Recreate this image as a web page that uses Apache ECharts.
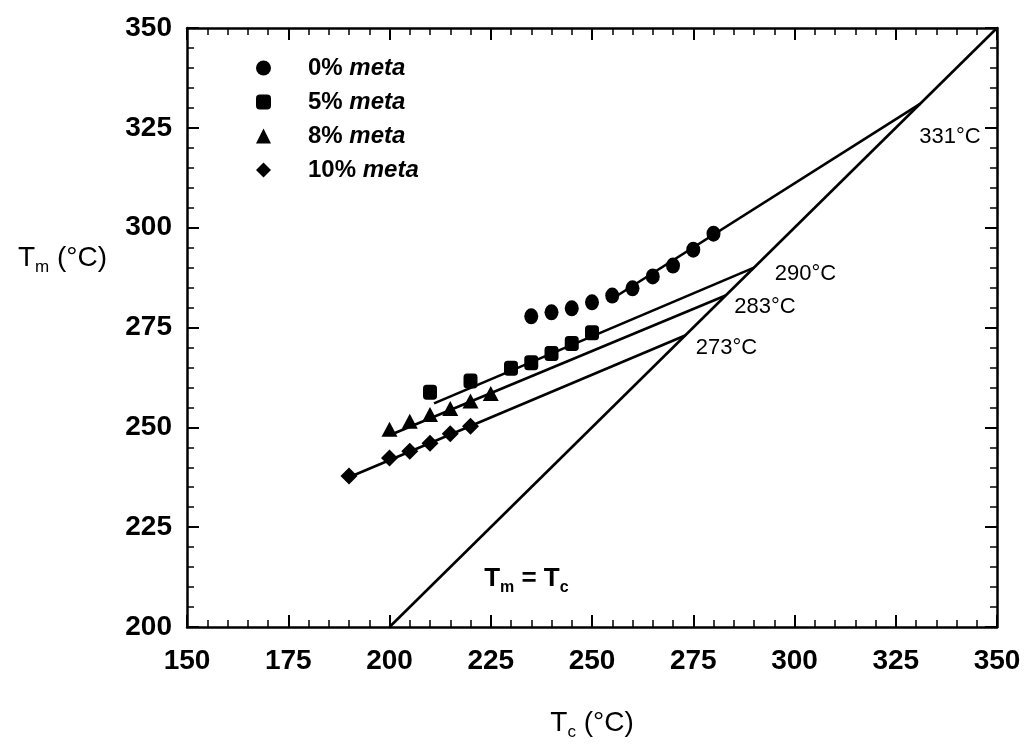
<!DOCTYPE html>
<html>
<head>
<meta charset="utf-8">
<script src="https://cdn.jsdelivr.net/npm/echarts@6/dist/echarts.min.js"></script>
<style>
  html, body { margin: 0; padding: 0; background: #fff; }
  #chart { width: 1024px; height: 746px; }
</style>
</head>
<body>
<div id="chart"></div>
<script>
// 测量数据 (Tc, Tm)
var meta0 = [[235, 277.8], [240, 278.8], [245, 279.8], [250, 281.3], [255, 283], [260, 284.8], [265, 287.8], [270, 290.5], [275, 294.5], [280, 298.5]];
var meta5 = [[210, 258.8], [220, 261.6], [230, 264.8], [235, 266.2], [240, 268.5], [245, 271], [250, 273.7]];
var meta8 = [[200, 249.5], [205, 251.5], [210, 253.2], [215, 254.7], [220, 256.6], [225, 258.5]];
var meta10 = [[190, 237.8], [200, 242.3], [205, 244], [210, 246], [215, 248.4], [220, 250.3]];

// 拟合线 -> 与 Tm = Tc 的交点
var fit0 = [[255, 282.2], [331, 331]];
var fit5 = [[211, 256], [290, 290]];
var fit8 = [[200, 248], [283, 283]];
var fit10 = [[190, 237.5], [273, 273]];
var diag = [[200, 200], [350, 350]];

// 标注 [Tc, Tm, 文本]
var notes = [
  [338.4, 322.6, "331°C"],
  [302.7, 288.5, "290°C"],
  [292.7, 280.1, "283°C"],
  [283.2, 270.0, "273°C"]
];
var eqNote = [[233.8, 212]];

var xTicks = [150, 350, 25];
var yTicks = [200, 350, 25];

var font = "Liberation Sans, Arial, Helvetica, sans-serif";
var myChart = echarts.init(document.getElementById("chart"));

function axisBase(lim, showLabel) {
  return {
    type: "value",
    min: lim[0],
    max: lim[1],
    interval: lim[2],
    axisLine: { show: true, onZero: false, lineStyle: { color: "#000", width: 2.5 } },
    axisTick: { show: true, inside: true, length: 12, lineStyle: { color: "#000", width: 2 } },
    minorTick: { show: true, splitNumber: 5, length: 7, lineStyle: { color: "#000", width: 1.5 } },
    splitLine: { show: false },
    axisLabel: {
      show: showLabel,
      color: "#000",
      fontFamily: font,
      fontSize: 28,
      fontWeight: "bold"
    }
  };
}

function fitLine(data) {
  return {
    type: "line",
    data: data,
    symbol: "none",
    silent: true,
    lineStyle: { color: "#000", width: 2.6 },
    z: 1
  };
}

function scatter(name, data, symbol, size) {
  return {
    name: name,
    type: "scatter",
    data: data,
    symbol: symbol,
    symbolSize: size,
    itemStyle: { color: "#000", opacity: 1 },
    z: 3
  };
}

var xBottom = axisBase(xTicks, true);
xBottom.position = "bottom";
xBottom.axisLabel.margin = 20;
xBottom.name = "{t|T}{s|c}{t| (°C)}";
xBottom.nameLocation = "middle";
xBottom.nameGap = 78;
xBottom.nameTextStyle = {
  rich: {
    t: { fontFamily: font, fontSize: 28, color: "#000", lineHeight: 36, verticalAlign: "middle" },
    s: { fontFamily: font, fontSize: 17, color: "#000", lineHeight: 36, verticalAlign: "bottom" }
  }
};
var xTop = axisBase(xTicks, false);
xTop.position = "top";

var yLeft = axisBase(yTicks, true);
yLeft.position = "left";
yLeft.axisLabel.margin = 15;
var yRight = axisBase(yTicks, false);
yRight.position = "right";

var option = {
  animation: false,
  backgroundColor: "#fff",
  grid: { left: 187, right: 27, top: 28, bottom: 118, containLabel: false },
  legend: {
    orient: "vertical",
    left: 251,
    top: 51,
    itemWidth: 15,
    itemHeight: 15,
    itemGap: 10,
    selectedMode: false,
    data: ["0%", "5%", "8%", "10%"],
    formatter: function (name) {
      return "{a|" + name + " }{i|meta}";
    },
    textStyle: {
      padding: [0, 0, 0, 32],
      rich: {
        a: { fontFamily: font, fontSize: 24, fontWeight: "bold", color: "#000" },
        i: { fontFamily: font, fontSize: 24, fontWeight: "bold", fontStyle: "italic", color: "#000" }
      }
    }
  },
  graphic: [
    {
      type: "text",
      left: 18,
      top: 244,
      style: {
        text: "{t|T}{s|m}{t| (°C)}",
        rich: {
          t: { fontFamily: font, fontSize: 28, fill: "#000", lineHeight: 36, verticalAlign: "middle" },
          s: { fontFamily: font, fontSize: 17, fill: "#000", lineHeight: 36, verticalAlign: "bottom" }
        }
      }
    }
  ],
  xAxis: [xBottom, xTop],
  yAxis: [yLeft, yRight],
  series: [
    fitLine(diag),
    fitLine(fit0),
    fitLine(fit5),
    fitLine(fit8),
    fitLine(fit10),
    scatter("0%", meta0, "circle", [14, 16]),
    scatter("5%", meta5, "roundRect", [14, 15]),
    scatter("8%", meta8, "triangle", [16, 15]),
    scatter("10%", meta10, "diamond", [17, 17]),
    {
      type: "scatter",
      data: notes,
      symbolSize: 1,
      itemStyle: { color: "transparent", opacity: 1 },
      silent: true,
      label: {
        show: true,
        position: "inside",
        color: "#000",
        fontFamily: font,
        fontSize: 22,
        fontWeight: 500,
        formatter: function (p) {
          return p.value[2];
        }
      }
    },
    {
      type: "scatter",
      data: eqNote,
      symbolSize: 1,
      itemStyle: { color: "transparent", opacity: 1 },
      silent: true,
      label: {
        show: true,
        position: "inside",
        formatter: "{t|T}{s|m}{t| = T}{s|c}",
        rich: {
          t: { fontFamily: font, fontSize: 26, fontWeight: "bold", color: "#000", lineHeight: 34, verticalAlign: "middle" },
          s: { fontFamily: font, fontSize: 16, fontWeight: "bold", color: "#000", lineHeight: 34, verticalAlign: "bottom" }
        }
      }
    }
  ]
};

myChart.setOption(option);
window.addEventListener("resize", function () {
  myChart.resize();
});
</script>
</body>
</html>
